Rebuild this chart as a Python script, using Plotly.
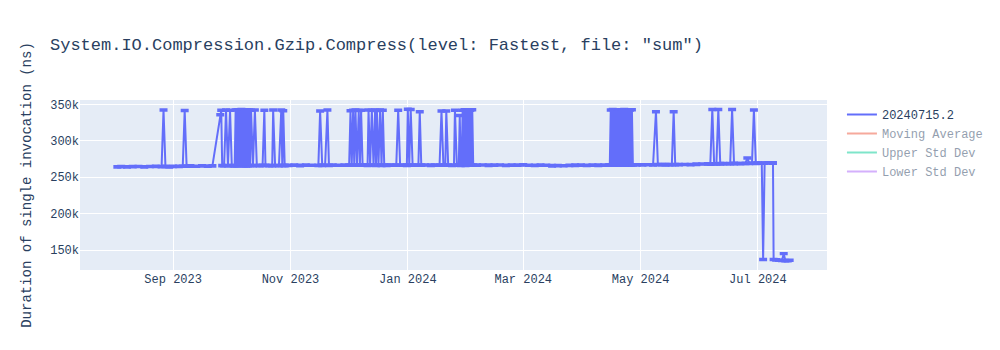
import plotly.graph_objects as go

chart_title = 'System.IO.Compression.Gzip.Compress(level: Fastest, file: "sum")'
y_title = "Duration of single invocation (ns)"
series_name = "20240715.2"
extra_series = ["Moving Average", "Upper Std Dev", "Lower Std Dev"]
# hidden (legend-only) helper series: one representative point each
extra_dates = ["2024-07-17", "2024-07-17", "2024-07-17"]
extra_values = [170000, 240000, 100000]

run_dates = [
    "2023-08-03", "2023-08-05", "2023-08-08", "2023-08-11", "2023-08-14", "2023-08-17", "2023-08-20", "2023-08-23", "2023-08-26",
    "2023-08-27", "2023-08-28",
    "2023-08-30", "2023-09-01", "2023-09-04", "2023-09-06",
    "2023-09-07", "2023-09-08",
    "2023-09-10", "2023-09-13", "2023-09-16", "2023-09-19", "2023-09-21 10:00",
    "2023-09-25 12:00", "2023-09-26 00:00", "2023-09-26 12:00",
    "2023-09-27 12:00", "2023-09-28 12:00", "2023-09-29 12:00",
    "2023-09-30 14:00", "2023-10-01 12:00", "2023-10-02 12:00",
    "2023-10-03 00:00", "2023-10-03 12:00", "2023-10-04 00:00", "2023-10-04 12:00", "2023-10-05 00:00", "2023-10-05 12:00",
    "2023-10-06 00:00", "2023-10-06 12:00", "2023-10-07 00:00", "2023-10-07 12:00", "2023-10-08 00:00", "2023-10-08 12:00",
    "2023-10-09 00:00", "2023-10-09 12:00", "2023-10-10 00:00", "2023-10-10 12:00", "2023-10-11 00:00", "2023-10-11 12:00",
    "2023-10-12 12:00", "2023-10-13 12:00", "2023-10-14 12:00",
    "2023-10-16", "2023-10-17 12:00", "2023-10-18 10:00", "2023-10-19",
    "2023-10-21", "2023-10-22 12:00", "2023-10-23", "2023-10-24",
    "2023-10-26", "2023-10-27 05:00", "2023-10-27 18:00", "2023-10-28 06:00", "2023-10-29",
    "2023-10-31", "2023-11-03", "2023-11-06", "2023-11-09", "2023-11-12", "2023-11-15 12:00",
    "2023-11-16 10:00", "2023-11-17 12:00",
    "2023-11-19", "2023-11-20 05:00", "2023-11-21",
    "2023-11-23", "2023-11-26", "2023-11-29", "2023-12-01 12:00",
    "2023-12-02 05:00", "2023-12-02 20:00", "2023-12-03 14:00", "2023-12-04 04:00", "2023-12-04 19:00",
    "2023-12-05 14:00", "2023-12-06 12:00", "2023-12-07 02:00", "2023-12-07 17:00", "2023-12-08 12:00",
    "2023-12-10", "2023-12-11 02:00",
    "2023-12-11 14:00", "2023-12-12 10:00", "2023-12-13 07:00", "2023-12-14 04:00", "2023-12-15 00:00", "2023-12-15 11:00",
    "2023-12-15 22:00", "2023-12-16 18:00", "2023-12-17 14:00", "2023-12-18 08:00", "2023-12-19 00:00", "2023-12-19 18:00",
    "2023-12-21", "2023-12-23", "2023-12-25", "2023-12-26",
    "2023-12-27", "2023-12-28",
    "2023-12-30", "2023-12-31 12:00",
    "2024-01-01 00:00", "2024-01-01 18:00", "2024-01-02 12:00", "2024-01-03 12:00",
    "2024-01-05", "2024-01-06 12:00",
    "2024-01-07 05:00", "2024-01-08",
    "2024-01-10", "2024-01-13", "2024-01-15", "2024-01-17 12:00",
    "2024-01-18 12:00", "2024-01-19 12:00", "2024-01-20 12:00",
    "2024-01-21 00:00", "2024-01-22",
    "2024-01-24", "2024-01-25 00:00",
    "2024-01-25 12:00", "2024-01-26 12:00", "2024-01-27 12:00",
    "2024-01-28 00:00", "2024-01-28 12:00", "2024-01-29 00:00",
    "2024-01-29 12:00", "2024-01-30 00:00", "2024-01-30 12:00", "2024-01-31 00:00", "2024-01-31 12:00", "2024-02-01 00:00",
    "2024-02-01 12:00", "2024-02-02 00:00", "2024-02-02 12:00", "2024-02-03 00:00", "2024-02-03 12:00", "2024-02-04 00:00",
    "2024-02-06", "2024-02-09", "2024-02-12", "2024-02-15", "2024-02-18", "2024-02-21", "2024-02-24", "2024-02-27",
    "2024-03-01", "2024-03-04", "2024-03-07", "2024-03-10", "2024-03-13", "2024-03-16", "2024-03-19", "2024-03-22",
    "2024-03-25", "2024-03-28", "2024-03-31", "2024-04-03", "2024-04-06", "2024-04-09", "2024-04-12", "2024-04-14 12:00",
    "2024-04-15 00:00", "2024-04-15 12:00", "2024-04-16 00:00", "2024-04-16 12:00", "2024-04-17 00:00", "2024-04-17 12:00",
    "2024-04-18 00:00", "2024-04-18 12:00", "2024-04-19 00:00", "2024-04-19 12:00", "2024-04-20 00:00", "2024-04-20 12:00",
    "2024-04-21 00:00", "2024-04-21 12:00", "2024-04-22 00:00", "2024-04-22 12:00", "2024-04-23 00:00", "2024-04-23 12:00",
    "2024-04-24 00:00", "2024-04-24 12:00", "2024-04-25 00:00", "2024-04-25 12:00", "2024-04-26 00:00", "2024-04-26 12:00",
    "2024-04-27 00:00",
    "2024-04-29", "2024-05-02", "2024-05-05", "2024-05-07 12:00",
    "2024-05-09", "2024-05-10",
    "2024-05-12", "2024-05-14", "2024-05-16", "2024-05-17 06:00",
    "2024-05-18 05:00", "2024-05-19",
    "2024-05-21", "2024-05-24", "2024-05-27", "2024-05-30", "2024-06-02", "2024-06-05", "2024-06-06 06:00",
    "2024-06-07 07:00", "2024-06-08 06:00", "2024-06-09 10:00",
    "2024-06-10 10:00", "2024-06-11 10:00",
    "2024-06-13", "2024-06-15", "2024-06-16 14:00",
    "2024-06-17 14:00", "2024-06-18 14:00",
    "2024-06-20", "2024-06-22", "2024-06-24 12:00",
    "2024-06-25 12:00", "2024-06-26 12:00",
    "2024-06-27 22:00", "2024-06-28 22:00", "2024-06-29 22:00",
    "2024-07-01", "2024-07-03 00:00",
    "2024-07-03 17:00", "2024-07-04 12:00", "2024-07-06 12:00", "2024-07-08 20:00",
    "2024-07-09 04:00", "2024-07-10 12:00", "2024-07-12 00:00", "2024-07-13 12:00", "2024-07-14 10:00",
    "2024-07-15 06:00", "2024-07-16 12:00", "2024-07-17 12:00",
]

durations_ns = [
    264300, 264600, 264200, 264500, 264800, 264400, 264700, 265000, 264600,
    342500, 264900,
    264200, 265000, 264800, 265100,
    341800, 265300,
    265500, 265200, 265600, 265400, 265600,
    336000, 342000, 266000,
    265800, 342300, 265900,
    342000, 266000, 265800,
    266100, 342500, 265900, 342800, 266000, 342200,
    266200, 343000, 265800, 342600, 266100, 342400,
    265900, 342900, 266000, 342300, 266100, 342000,
    266000, 342500, 266100,
    266000, 266200, 342000, 266300,
    266100, 266000, 342500, 266200,
    266000, 342500, 266300, 341500, 266100,
    266300, 266600, 266200, 266500, 266400, 266300,
    341000, 266500,
    266400, 342500, 266300,
    266600, 266400, 266500, 266600,
    341500, 266500, 342000, 266400, 342500,
    266700, 341800, 266500, 342200, 266600,
    266500, 266400,
    342300, 266400, 342000, 266700, 342600, 266500,
    341800, 266600, 342400, 266300, 342000, 266600,
    266500, 266700, 266400, 266600,
    342000, 266500,
    266700, 266400,
    343500, 266600, 343000, 266500,
    266700, 266400,
    340000, 266600,
    266800, 266500, 266700, 266600,
    341000, 266700, 266500,
    341000, 266600,
    266400, 266500,
    342000, 266600, 266500,
    335000, 266400, 266600,
    342200, 266500, 342800, 266300, 342400, 266600,
    342900, 266400, 342000, 266500, 342700, 266600,
    266700, 266900, 266500, 266600, 266800, 266400, 266700, 266600,
    266900, 266500, 266300, 266600, 266400, 265800, 266000, 265900,
    266300, 266500, 266600, 266400, 266700, 266500, 266800, 266600,
    266700, 342500, 266600, 343000, 266800, 342200,
    266500, 342700, 266700, 342100, 266900, 342800,
    266600, 342400, 266800, 343000, 266700, 342300,
    266900, 342600, 266800, 342400, 266900, 342700,
    267000,
    267100, 267000, 267200, 267100,
    340000, 267200,
    267300, 267100, 267400, 267200,
    340000, 267400,
    267300, 267600, 267500, 267900, 268200, 268400, 268300,
    343000, 268500, 268400,
    343000, 268600,
    268800, 268600, 268700,
    343000, 268900,
    269000, 268800, 269100,
    276500, 269000,
    269200, 342500, 269300,
    269300, 269500,
    137000, 269500, 269800, 269600,
    137000, 136500, 136000, 135500, 145000,
    135500, 135300, 135800,
]

error_ns = [
    1200, 1100, 1300, 1200, 1000, 1200, 1100, 1300, 1200,
    1000, 1200,
    1100, 1300, 1200, 1100,
    1000, 1200,
    1300, 1100, 1200, 1200, 1100,
    1000, 1000, 1200,
    1100, 1000, 1200,
    1000, 1300, 1100,
    1200, 1000, 1100, 1000, 1300, 1000,
    1200, 1000, 1100, 1000, 1200, 1000,
    1300, 1000, 1200, 1000, 1100, 1000,
    1200, 1000, 1100,
    1300, 1200, 1000, 1100,
    1200, 1300, 1000, 1100,
    1200, 1000, 1100, 1000, 1300,
    1200, 1100, 1300, 1200, 1100, 1200,
    1000, 1300,
    1100, 1000, 1200,
    1300, 1100, 1200, 1100,
    1000, 1200, 1000, 1100, 1000,
    1300, 1000, 1200, 1000, 1100,
    1200, 1300,
    1000, 1100, 1000, 1200, 1000, 1300,
    1000, 1100, 1000, 1200, 1000, 1100,
    1300, 1200, 1100, 1200,
    1000, 1100,
    1200, 1300,
    1000, 1100, 1000, 1200,
    1300, 1100,
    1000, 1200,
    1100, 1300, 1200, 1100,
    1000, 1200, 1100,
    1000, 1300,
    1200, 1100,
    1000, 1200, 1100,
    1000, 1300, 1200,
    1000, 1100, 1000, 1200, 1000, 1300,
    1000, 1100, 1000, 1200, 1000, 1100,
    1200, 1100, 1300, 1200, 1100, 1200, 1300, 1100,
    1200, 1100, 1300, 1200, 1100, 1300, 1200, 1100,
    1200, 1300, 1100, 1200, 1100, 1300, 1200, 1100,
    1200, 1000, 1100, 1000, 1300, 1000,
    1200, 1000, 1100, 1000, 1200, 1000,
    1300, 1000, 1100, 1000, 1200, 1000,
    1100, 1000, 1300, 1000, 1200, 1000,
    1100,
    1200, 1300, 1100, 1200,
    1000, 1200,
    1100, 1300, 1200, 1100,
    1000, 1200,
    1300, 1100, 1200, 1300, 1100, 1200, 1300,
    1000, 1200, 1100,
    1000, 1300,
    1200, 1100, 1200,
    1000, 1300,
    1100, 1200, 1100,
    1000, 1200,
    1100, 1000, 1300,
    1200, 1100,
    1000, 1200, 1100, 1300,
    1000, 1200, 1100, 1000, 1000,
    1200, 1100, 1000,
]

assert len(run_dates) == len(durations_ns) == len(error_ns), (len(run_dates), len(durations_ns), len(error_ns))

FONT = "Courier New, Liberation Mono, monospace"

fig = go.Figure()
fig.add_trace(go.Scatter(
    x=run_dates, y=durations_ns, mode="lines", name=series_name,
    error_y=dict(type="data", array=error_ns, visible=True),
))
for nm, d, v in zip(extra_series, extra_dates, extra_values):
    fig.add_trace(go.Scatter(x=[d], y=[v], mode="lines", name=nm, visible="legendonly"))

fig.update_layout(
    width=1000,
    height=350,
    title=dict(text=chart_title),
    font=dict(family=FONT),
    yaxis=dict(title=dict(text=y_title)),
)

fig.write_html("out.html")
